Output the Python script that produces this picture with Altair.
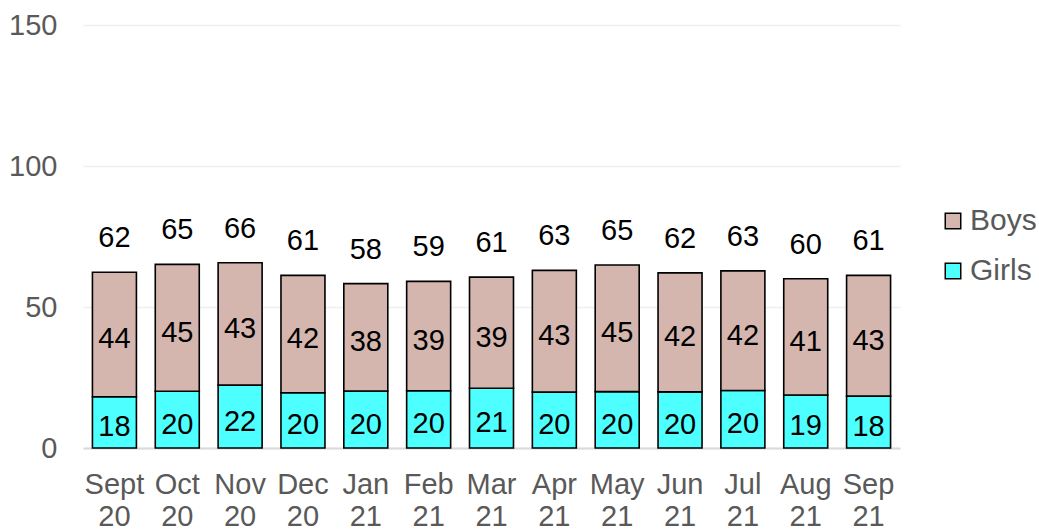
import altair as alt
import pandas as pd

# Monthly counts, split by sex
months = ["Sept 20", "Oct 20", "Nov 20", "Dec 20", "Jan 21", "Feb 21", "Mar 21",
          "Apr 21", "May 21", "Jun 21", "Jul 21", "Aug 21", "Sep 21"]
girls = [18.2, 20.1, 22.3, 19.6, 20.2, 20.3, 21.2, 19.8, 20.0, 19.9, 20.4, 18.8, 18.4]
boys = [44.1, 45.0, 43.4, 41.6, 38.1, 38.8, 39.4, 43.2, 44.9, 42.2, 42.4, 41.2, 42.8]

FONT = "Liberation Sans"
GREY = "#595959"
FS = 29

rows = []
for m, g, b in zip(months, girls, boys):
    rows.append({"month": m, "sex": "Girls", "value": g, "ord": 0})
    rows.append({"month": m, "sex": "Boys", "value": b, "ord": 1})
df = pd.DataFrame(rows)

x_axis = alt.Axis(
    labelAngle=0,
    labelExpr="split(datum.label, ' ')",
    labelFont=FONT,
    labelFontSize=FS,
    labelColor=GREY,
    labelLineHeight=32,
    labelPadding=22,
    ticks=False,
    domainColor="#D9D9D9",
    domainWidth=2,
    grid=False,
)
x_enc = alt.X(
    "month:N",
    sort=months,
    title=None,
    scale=alt.Scale(paddingInner=0.3, paddingOuter=0.15),
    axis=x_axis,
)

y_scale = alt.Scale(domain=[0, 150], nice=False)

base = alt.Chart(df)

bars = base.mark_bar(stroke="black", strokeWidth=1.6).encode(
    x=x_enc,
    y=alt.Y(
        "value:Q",
        stack="zero",
        scale=y_scale,
        title=None,
        axis=alt.Axis(
            values=[0, 50, 100, 150],
            labelFont=FONT,
            labelFontSize=FS,
            labelColor=GREY,
            labelPadding=26,
            ticks=False,
            domain=False,
            gridColor="#EFEFEF",
            gridWidth=1.5,
        ),
    ),
    color=alt.Color(
        "sex:N",
        scale=alt.Scale(domain=["Boys", "Girls"], range=["#D5B6AF", "#4DFFFF"]),
        legend=alt.Legend(
            title=None,
            orient="none",
            legendX=855,
            legendY=181,
            padding=0,
            symbolType="square",
            symbolSize=240,
            symbolStrokeColor="black",
            symbolStrokeWidth=1.5,
            labelFont=FONT,
            labelFontSize=FS + 1,
            labelColor=GREY,
            labelOffset=2,
            rowPadding=20,
        ),
    ),
    order=alt.Order("ord:Q"),
)

segment_labels = (
    base.transform_stack(
        stack="value", groupby=["month"], as_=["v0", "v1"], sort=[alt.SortField("ord")]
    )
    .transform_calculate(mid="(datum.v0 + datum.v1) / 2")
    .mark_text(font=FONT, fontSize=FS, color="black", baseline="middle", dy=5)
    .encode(
        x=alt.X("month:N", sort=months, axis=x_axis, title=None),
        y=alt.Y("mid:Q", scale=y_scale),
        text=alt.Text("value:Q", format=".0f"),
    )
)

total_labels = (
    base.transform_aggregate(total="sum(value)", groupby=["month"])
    .mark_text(font=FONT, fontSize=FS, color="black", baseline="bottom", dy=-19)
    .encode(
        x=alt.X("month:N", sort=months, axis=x_axis, title=None),
        y=alt.Y("total:Q", scale=y_scale),
        text=alt.Text("total:Q", format=".0f"),
    )
)

chart = (
    alt.layer(bars, segment_labels, total_labels)
    .properties(
        width=817,
        height=423,
        autosize=alt.AutoSizeParams(type="none"),
        padding={"left": 83, "top": 25, "right": 139, "bottom": 83},
        view=alt.ViewBackground(stroke=None, strokeWidth=0),
    )
    .configure_view(stroke=None, strokeWidth=0)
    .configure_axisX(grid=False)
    .configure(background="white")
)

chart.save("out.html", embed_options={"renderer": "svg", "actions": False})
